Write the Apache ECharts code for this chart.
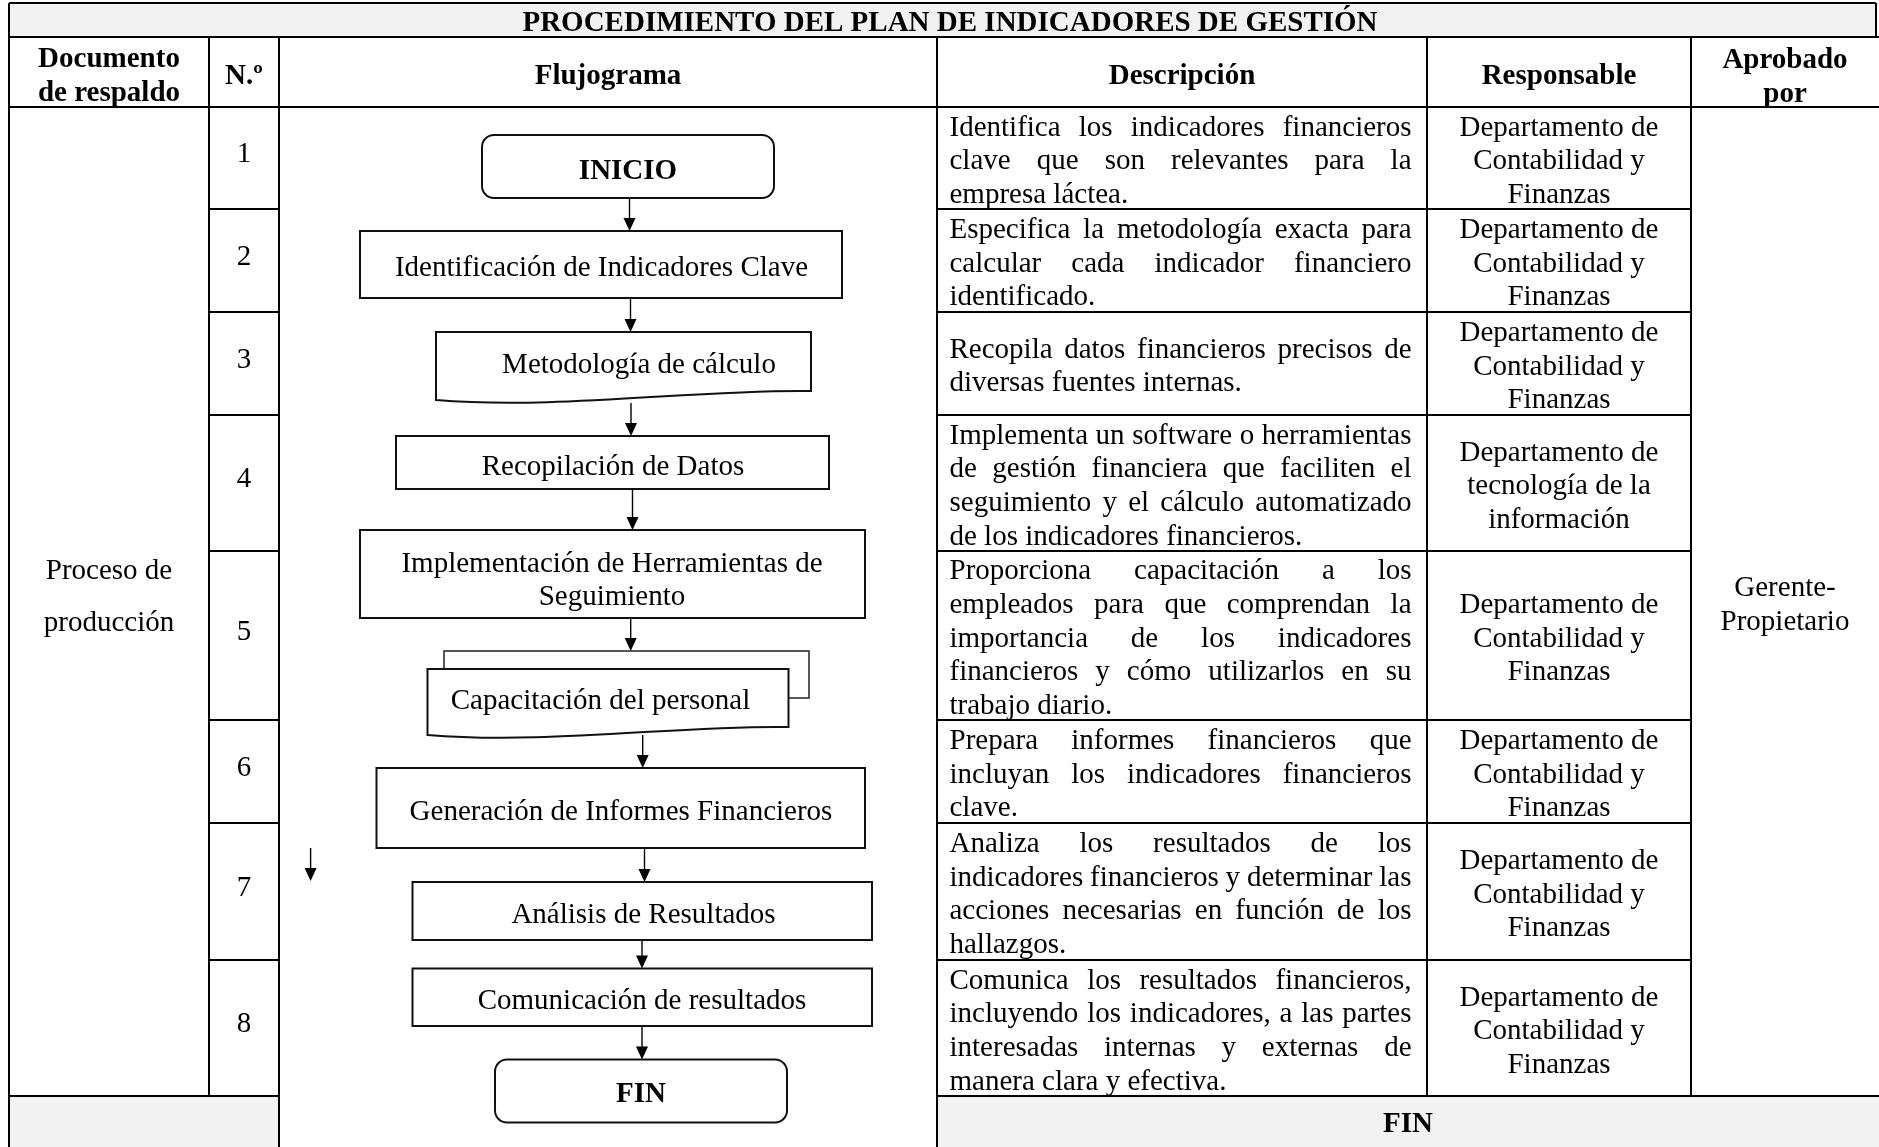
<!DOCTYPE html>
<html><head><meta charset="utf-8">
<script src="https://cdn.jsdelivr.net/npm/echarts@6/dist/echarts.min.js"></script>
<style>html,body{margin:0;padding:0;background:#fff}#c{width:1879px;height:1147px}</style>
</head><body><div id="c"></div>
<script>
// ---------- content ----------
const titulo = 'PROCEDIMIENTO DEL PLAN DE INDICADORES DE GESTIÓN';
const encabezados = ['Documento\nde respaldo', 'N.º', 'Flujograma', 'Descripción', 'Responsable', 'Aprobado\npor'];
const documentoRespaldo = 'Proceso de\nproducción';
const aprobadoPor = 'Gerente-\nPropietario';
const pieTexto = 'FIN';
const numeros = ['1', '2', '3', '4', '5', '6', '7', '8'];
const descripciones = [
  ['Identifica los indicadores financieros', 'clave que son relevantes para la', 'empresa láctea.'],
  ['Especifica la metodología exacta para', 'calcular cada indicador financiero', 'identificado.'],
  ['Recopila datos financieros precisos de', 'diversas fuentes internas.'],
  ['Implementa un software o herramientas', 'de gestión financiera que faciliten el', 'seguimiento y el cálculo automatizado', 'de los indicadores financieros.'],
  ['Proporciona capacitación a los', 'empleados para que comprendan la', 'importancia de los indicadores', 'financieros y cómo utilizarlos en su', 'trabajo diario.'],
  ['Prepara informes financieros que', 'incluyan los indicadores financieros', 'clave.'],
  ['Analiza los resultados de los', 'indicadores financieros y determinar las', 'acciones necesarias en función de los', 'hallazgos.'],
  ['Comunica los resultados financieros,', 'incluyendo los indicadores, a las partes', 'interesadas internas y externas de', 'manera clara y efectiva.']
];
const responsables = [
  'Departamento de\nContabilidad y\nFinanzas',
  'Departamento de\nContabilidad y\nFinanzas',
  'Departamento de\nContabilidad y\nFinanzas',
  'Departamento de\ntecnología de la\ninformación',
  'Departamento de\nContabilidad y\nFinanzas',
  'Departamento de\nContabilidad y\nFinanzas',
  'Departamento de\nContabilidad y\nFinanzas',
  'Departamento de\nContabilidad y\nFinanzas'
];
const pasos = ['INICIO', 'Identificación de Indicadores Clave', 'Metodología de cálculo', 'Recopilación de Datos',
  'Implementación de Herramientas de\nSeguimiento', 'Capacitación del personal', 'Generación de Informes Financieros',
  'Análisis de Resultados', 'Comunicación de resultados', 'FIN'];
const formas = ['terminal', 'proceso', 'documento', 'proceso', 'proceso', 'multidocumento', 'proceso', 'proceso', 'proceso', 'terminal'];

// ---------- layout (pixels) ----------
const W = 1879, H = 1147;
const COLS = [9, 209, 279, 937, 1427, 1691, 1879];
const TOP = 3, HEAD = 37, BODY = 107, BOTTOM = 1147, TITLE_R = 1876;
const ROWS = [107, 209, 312, 415, 551, 720, 823, 960, 1096];
const DESC_L = 949.5, DESC_R = 1411.5;
const FS = 29, LH = 33.6, TY = 3.5;
const FONT = FS + 'px "Liberation Serif"';
const BFONT = 'bold ' + FS + 'px "Liberation Serif"';
const GRAY = '#f2f2f2';
// node boxes: x0, y0, x1, y1(right bottom), y1 left (documents), label x, label y
const NODE_BOX = [
  [482, 135, 774, 198, 198, 628, 168],
  [360, 231, 842, 298, 298, 601.5, 265],
  [436, 332, 811, 391, 400, 639, 362],
  [396, 436, 829, 489, 489, 613, 464],
  [360, 530, 865, 618, 618, 612, 577],
  [427.5, 669, 788.5, 727, 735, 600.5, 698],
  [376.5, 768, 865, 848, 848, 621, 809],
  [412.5, 882, 872, 940, 940, 643.5, 912],
  [412.5, 968.5, 872, 1026, 1026, 642, 998],
  [495, 1059.5, 787, 1122.5, 1122.5, 641, 1091]
];
const MULTI_BACK = [[444, 669], [444, 651], [809, 651], [809, 698], [788.5, 698]];
// arrows: x, y start, y tip
const ARROWS = [
  [629.5, 198, 231], [630.5, 298, 332], [631, 403, 436], [632.5, 489, 530], [630.7, 618, 651],
  [642.7, 735, 768], [644.5, 848, 882], [642, 940, 968.5], [642, 1026, 1059.5], [310.6, 848, 881]
];

const mctx = document.createElement('canvas').getContext('2d');
function tw(s, f) { mctx.font = f; return mctx.measureText(s).width; }

function P(api, x, y) { return api.coord([x, y]); }
function rectEl(api, x0, y0, x1, y1, style) {
  const a = P(api, x0, y0), b = P(api, x1, y1);
  return { type: 'rect', shape: { x: a[0], y: a[1], width: b[0] - a[0], height: b[1] - a[1] }, style: style };
}
function lineEl(api, x0, y0, x1, y1, lw) {
  const a = P(api, x0, y0), b = P(api, x1, y1);
  return { type: 'line', shape: { x1: a[0], y1: a[1], x2: b[0], y2: b[1] }, style: { stroke: '#000', lineWidth: lw || 2 } };
}
function textEl(api, s, x, y, font, align, lh) {
  const a = P(api, x, y + TY);
  return { type: 'text', style: { text: s, x: a[0], y: a[1], font: font, fill: '#000', align: align || 'center', verticalAlign: 'middle', lineHeight: lh || LH } };
}

// frame: title, header, merged cells, footer
function renderFrame(params, api) {
  const ch = [];
  ch.push(rectEl(api, COLS[0], TOP, TITLE_R, HEAD, { fill: GRAY }));
  ch.push(rectEl(api, COLS[0], ROWS[8], COLS[2], BOTTOM, { fill: GRAY }));
  ch.push(rectEl(api, COLS[3], ROWS[8], COLS[6], BOTTOM, { fill: GRAY }));
  // horizontal lines
  ch.push(lineEl(api, COLS[0], TOP, TITLE_R, TOP));
  ch.push(lineEl(api, COLS[0], HEAD, COLS[6], HEAD));
  ch.push(lineEl(api, COLS[0], BODY, COLS[6], BODY));
  ch.push(lineEl(api, COLS[0], ROWS[8], COLS[2], ROWS[8]));
  ch.push(lineEl(api, COLS[3], ROWS[8], COLS[6], ROWS[8]));
  // vertical lines
  ch.push(lineEl(api, COLS[0], TOP, COLS[0], BOTTOM));
  ch.push(lineEl(api, TITLE_R, TOP, TITLE_R, HEAD));
  ch.push(lineEl(api, COLS[1], HEAD, COLS[1], ROWS[8]));
  ch.push(lineEl(api, COLS[2], HEAD, COLS[2], BOTTOM));
  ch.push(lineEl(api, COLS[3], HEAD, COLS[3], BOTTOM));
  ch.push(lineEl(api, COLS[4], HEAD, COLS[4], ROWS[8]));
  ch.push(lineEl(api, COLS[5], HEAD, COLS[5], ROWS[8]));
  // texts
  ch.push(textEl(api, titulo, 950, 20.5, BFONT));
  const hy = (HEAD + BODY) / 2 + 1;
  for (let i = 0; i < 6; i++) {
    ch.push(textEl(api, encabezados[i], (COLS[i] + COLS[i + 1]) / 2, hy + (i === 5 ? 1 : 0), BFONT, 'center', 34.5));
  }
  ch.push(textEl(api, documentoRespaldo, (COLS[0] + COLS[1]) / 2, 594, FONT, 'center', 51.5));
  ch.push(textEl(api, aprobadoPor, (COLS[5] + COLS[6]) / 2, 602, FONT, 'center', 34.7));
  ch.push(textEl(api, pieTexto, (COLS[3] + COLS[6]) / 2, 1121, BFONT));
  return { type: 'group', children: ch };
}

// table rows
function renderRow(params, api) {
  const i = params.dataIndex;
  const y0 = ROWS[i], y1 = ROWS[i + 1], yc = (y0 + y1) / 2;
  const ch = [];
  if (i > 0) {
    ch.push(lineEl(api, COLS[1], y0, COLS[2], y0));
    ch.push(lineEl(api, COLS[3], y0, COLS[5], y0));
  }
  ch.push(textEl(api, numeros[i], (COLS[1] + COLS[2]) / 2, yc - 7, FONT));
  const lines = descripciones[i];
  const n = lines.length;
  const ly0 = yc - (n - 1) / 2 * LH;
  lines.forEach(function (ln, k) {
    const y = ly0 + k * LH;
    if (k < n - 1) {
      const words = ln.split(' ');
      const ws = words.map(function (w) { return tw(w, FONT); });
      const sum = ws.reduce(function (a, b) { return a + b; }, 0);
      const gap = (DESC_R - DESC_L - sum) / (words.length - 1);
      let x = DESC_L;
      words.forEach(function (w, j) {
        ch.push(textEl(api, w, x, y, FONT, 'left'));
        x += ws[j] + gap;
      });
    } else {
      ch.push(textEl(api, ln, DESC_L, y, FONT, 'left'));
    }
  });
  ch.push(textEl(api, responsables[i], (COLS[4] + COLS[5]) / 2, yc, FONT, 'center', LH));
  return { type: 'group', children: ch };
}

function docPath(api, x0, y0, x1, yR, yL) {
  const w = x1 - x0;
  const p = function (x, y) { const c = P(api, x, y); return c[0].toFixed(2) + ' ' + c[1].toFixed(2); };
  return 'M ' + p(x0, y0) + ' L ' + p(x1, y0) + ' L ' + p(x1, yR) +
    ' C ' + p(x1 - 0.3 * w, yR - 2) + ' ' + p(x0 + 0.33 * w, yL + 10) + ' ' + p(x0, yL) + ' Z';
}

function renderNode(params, api) {
  const i = params.dataIndex;
  const b = NODE_BOX[i];
  const f = formas[i];
  const ch = [];
  const st = { fill: '#fff', stroke: '#111', lineWidth: 2 };
  if (f === 'terminal') {
    const r = rectEl(api, b[0], b[1], b[2], b[3], st);
    r.shape.r = 12;
    ch.push(r);
  } else if (f === 'proceso') {
    ch.push(rectEl(api, b[0], b[1], b[2], b[3], st));
  } else {
    if (f === 'multidocumento') {
      ch.push({ type: 'polyline', shape: { points: MULTI_BACK.map(function (q) { return P(api, q[0], q[1]); }) },
        style: { stroke: '#222', lineWidth: 1.5, fill: null } });
    }
    ch.push({ type: 'path', shape: { pathData: docPath(api, b[0], b[1], b[2], b[3], b[4]) }, style: st });
  }
  const bold = (f === 'terminal');
  ch.push(textEl(api, pasos[i], b[5], b[6], bold ? BFONT : FONT, 'center', 33));
  return { type: 'group', children: ch };
}

function renderArrow(params, api) {
  const a = ARROWS[params.dataIndex];
  const s = P(api, a[0], a[1]), t = P(api, a[0], a[2]);
  return { type: 'group', children: [
    { type: 'line', shape: { x1: s[0], y1: s[1], x2: t[0], y2: t[1] - 10 }, style: { stroke: '#000', lineWidth: 1.4 } },
    { type: 'polygon', shape: { points: [[t[0] - 6, t[1] - 13], [t[0] + 6, t[1] - 13], [t[0], t[1]]] }, style: { fill: '#000' } }
  ] };
}

const chart = echarts.init(document.getElementById('c'), null, { renderer: 'canvas' });
chart.setOption({
  animation: false,
  backgroundColor: '#fff',
  grid: { left: 0, right: 0, top: 0, bottom: 0 },
  xAxis: { type: 'value', min: 0, max: W, show: false },
  yAxis: { type: 'value', min: 0, max: H, inverse: true, show: false },
  series: [
    { type: 'custom', name: 'marco', silent: true, renderItem: renderFrame, data: [[0, 0]], z: 1 },
    { type: 'custom', name: 'filas', silent: true, renderItem: renderRow, data: numeros.map(function (n, i) { return [i, i]; }), z: 2 },
    { type: 'custom', name: 'flechas', silent: true, renderItem: renderArrow, data: ARROWS.map(function (a, i) { return [i, i]; }), z: 3 },
    { type: 'custom', name: 'flujo', silent: true, renderItem: renderNode, data: pasos.map(function (p, i) { return [i, i]; }), z: 4 }
  ]
});
</script>
</body></html>
